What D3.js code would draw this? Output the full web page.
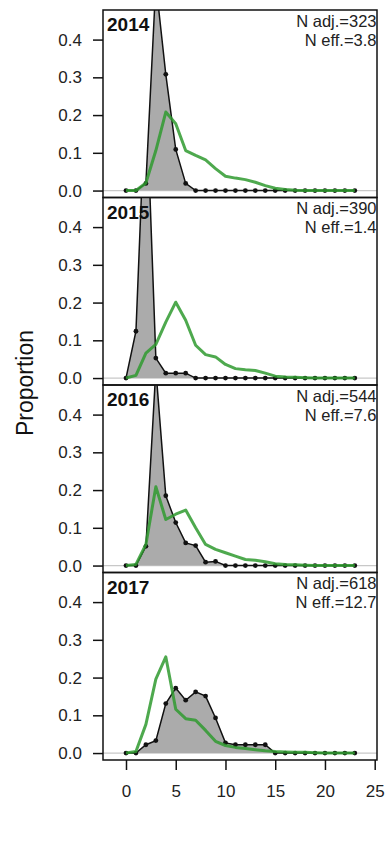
<!DOCTYPE html>
<html>
<head>
<meta charset="utf-8">
<script src="https://cdn.jsdelivr.net/npm/d3@7"></script>
<style>
  html, body { margin: 0; padding: 0; background: #fff; }
  svg { display: block; font-family: "Liberation Sans", Arial, sans-serif; }
</style>
</head>
<body>
<svg id="chart" width="387" height="847"></svg>
<script>
// ---- data ----
const bins = [0,1,2,3,4,5,6,7,8,9,10,11,12,13,14,15,16,17,18,19,20,21,22,23];
const years = ["2014", "2015", "2016", "2017"];
const nAdj = ["323", "390", "544", "618"];
const nEff = ["3.8", "1.4", "7.6", "12.7"];

const obs2014 = [0,0,0.019,0.55,0.308,0.109,0.019,0,0,0,0,0,0,0,0,0,0,0,0,0,0,0,0,0];
const exp2014 = [0,0,0.02,0.106,0.208,0.177,0.106,0.093,0.081,0.058,0.038,0.033,0.029,0.022,0.013,0.006,0.003,0.001,0,0,0,0,0,0];

const obs2015 = [0,0.124,0.78,0.053,0.013,0.013,0.013,0,0,0,0,0,0,0,0,0,0,0,0,0,0,0,0,0];
const exp2015 = [0,0.007,0.066,0.089,0.148,0.201,0.153,0.087,0.062,0.056,0.036,0.025,0.022,0.02,0.013,0.005,0.003,0.002,0.001,0,0,0,0,0];

const obs2016 = [0,0,0.051,0.52,0.185,0.114,0.060,0.053,0.009,0.011,0,0,0,0,0,0,0,0,0,0,0,0,0,0];
const exp2016 = [0,0.003,0.056,0.209,0.122,0.136,0.147,0.100,0.056,0.043,0.034,0.025,0.016,0.014,0.01,0.005,0.003,0.002,0.001,0,0,0,0,0];

const obs2017 = [0,0,0.022,0.033,0.131,0.172,0.14,0.162,0.151,0.093,0.027,0.022,0.022,0.022,0.022,0,0,0,0,0,0,0,0,0];
const exp2017 = [0,0.004,0.076,0.196,0.255,0.116,0.091,0.087,0.06,0.031,0.02,0.015,0.012,0.009,0.006,0.004,0.003,0.002,0.002,0.001,0,0,0,0];

const observed = [obs2014, obs2015, obs2016, obs2017];
const expected = [exp2014, exp2015, exp2016, exp2017];

const yTicks = [0, 0.1, 0.2, 0.3, 0.4];
const xTicks = [0, 5, 10, 15, 20, 25];

// ---- layout ----
const svg = d3.select("#chart");
const frameL = 103, frameR = 377;
const top0 = 10, panelH = 187.5;

const x = d3.scaleLinear().domain([0, 25]).range([126, 374.7]);

svg.append("rect").attr("width", 387).attr("height", 847).attr("fill", "#fff");

years.forEach((yr, i) => {
  const top = top0 + i * panelH;
  const bottom = top + panelH;
  const y = d3.scaleLinear().domain([-0.0184, 0.4784]).range([bottom, top]);
  const g = svg.append("g");

  const clipId = "clip" + i;
  svg.append("clipPath").attr("id", clipId)
    .append("rect").attr("x", frameL).attr("y", top)
    .attr("width", frameR - frameL).attr("height", panelH);

  const plot = g.append("g").attr("clip-path", `url(#${clipId})`);

  // zero reference line
  plot.append("line")
    .attr("x1", frameL).attr("x2", frameR)
    .attr("y1", y(0)).attr("y2", y(0))
    .attr("stroke", "#c8c8c8").attr("stroke-width", 1.2);

  const obs = bins.map((b, k) => [b, observed[i][k]]);
  const exp = bins.map((b, k) => [b, expected[i][k]]);

  // observed filled area
  const area = d3.area().x(d => x(d[0])).y0(y(0)).y1(d => y(d[1]));
  plot.append("path").datum(obs)
    .attr("d", area).attr("fill", "#ababab").attr("stroke", "none");

  const line = d3.line().x(d => x(d[0])).y(d => y(d[1]));
  plot.append("path").datum(obs)
    .attr("d", line).attr("fill", "none")
    .attr("stroke", "#111").attr("stroke-width", 1.5);

  plot.selectAll("circle.obs").data(obs).enter().append("circle")
    .attr("class", "obs")
    .attr("cx", d => x(d[0])).attr("cy", d => y(d[1]))
    .attr("r", 2.4).attr("fill", "#111");

  // expected line
  plot.append("path").datum(exp)
    .attr("d", line).attr("fill", "none")
    .attr("stroke", "#2f9a2f").attr("stroke-opacity", 0.85)
    .attr("stroke-width", 3).attr("stroke-linejoin", "round");

  // texts
  g.append("text")
    .attr("x", 107).attr("y", top + 21)
    .attr("font-size", 19).attr("font-weight", "bold").attr("fill", "#111")
    .text(yr);
  g.append("text")
    .attr("x", 376.5).attr("y", top + 16.5)
    .attr("text-anchor", "end").attr("font-size", 16.5).attr("fill", "#222")
    .text("N adj.=" + nAdj[i]);
  g.append("text")
    .attr("x", 376.5).attr("y", top + 35.5)
    .attr("text-anchor", "end").attr("font-size", 16.5).attr("fill", "#222")
    .text("N eff.=" + nEff[i]);

  // y axis
  const yAxis = d3.axisLeft(y).tickValues(yTicks)
    .tickFormat(d3.format(".1f")).tickSize(10).tickPadding(11);
  const ga = svg.append("g").attr("transform", `translate(${frameL},0)`).call(yAxis);
  ga.select(".domain").remove();
  ga.selectAll(".tick line").attr("stroke", "#111").attr("stroke-width", 1.5);
  ga.selectAll(".tick text").attr("font-size", 17).attr("fill", "#222")
    .attr("font-family", "Liberation Sans, Arial, sans-serif");

  // frame
  g.append("rect")
    .attr("x", frameL).attr("y", top)
    .attr("width", frameR - frameL).attr("height", panelH)
    .attr("fill", "none").attr("stroke", "#111").attr("stroke-width", 1.5);
});

// x axis
const xBottom = top0 + 4 * panelH;
const xAxis = d3.axisBottom(x).tickValues(xTicks).tickSize(10).tickPadding(15);
const gx = svg.append("g").attr("transform", `translate(0,${xBottom})`).call(xAxis);
gx.select(".domain").remove();
gx.selectAll(".tick line").attr("stroke", "#111").attr("stroke-width", 1.5);
gx.selectAll(".tick text").attr("font-size", 17).attr("fill", "#222")
  .attr("font-family", "Liberation Sans, Arial, sans-serif");

// y label
svg.append("text")
  .attr("transform", "translate(33,383) rotate(-90)")
  .attr("text-anchor", "middle").attr("font-size", 23).attr("fill", "#111")
  .text("Proportion");
</script>
</body>
</html>
